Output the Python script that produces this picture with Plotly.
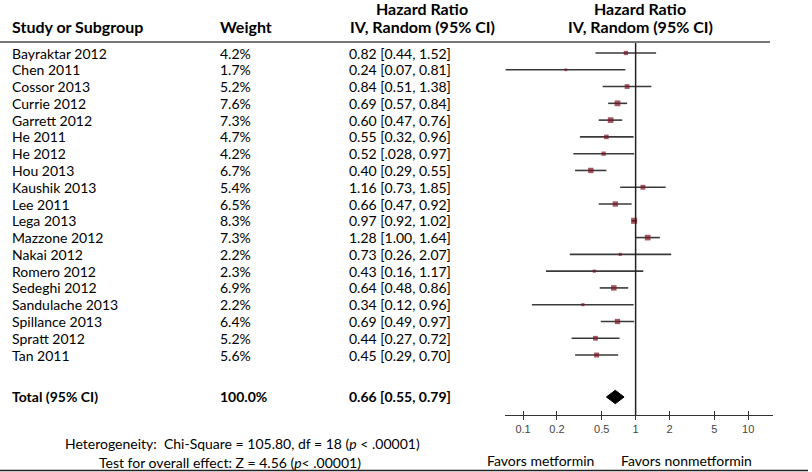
import plotly.graph_objects as go

W, H = 812, 472

studies = ["Bayraktar 2012", "Chen 2011", "Cossor 2013", "Currie 2012", "Garrett 2012",
           "He 2011", "He 2012", "Hou 2013", "Kaushik 2013", "Lee 2011", "Lega 2013",
           "Mazzone 2012", "Nakai 2012", "Romero 2012", "Sedeghi 2012", "Sandulache 2013",
           "Spillance 2013", "Spratt 2012", "Tan 2011"]
weights = [4.2, 1.7, 5.2, 7.6, 7.3, 4.7, 4.2, 6.7, 5.4, 6.5, 8.3, 7.3, 2.2, 2.3, 6.9, 2.2, 6.4, 5.2, 5.6]
hr = [0.82, 0.24, 0.84, 0.69, 0.60, 0.55, 0.52, 0.40, 1.16, 0.66, 0.97, 1.28, 0.73, 0.43, 0.64, 0.34, 0.69, 0.44, 0.45]
lower = [0.44, 0.07, 0.51, 0.57, 0.47, 0.32, 0.28, 0.29, 0.73, 0.47, 0.92, 1.00, 0.26, 0.16, 0.48, 0.12, 0.49, 0.27, 0.29]
upper = [1.52, 0.81, 1.38, 0.84, 0.76, 0.96, 0.97, 0.55, 1.85, 0.92, 1.02, 1.64, 2.07, 1.17, 0.86, 0.96, 0.97, 0.72, 0.70]
hr_text = ["0.82 [0.44, 1.52]", "0.24 [0.07, 0.81]", "0.84 [0.51, 1.38]", "0.69 [0.57, 0.84]",
           "0.60 [0.47, 0.76]", "0.55 [0.32, 0.96]", "0.52 [.028, 0.97]", "0.40 [0.29, 0.55]",
           "1.16 [0.73, 1.85]", "0.66 [0.47, 0.92]", "0.97 [0.92, 1.02]", "1.28 [1.00, 1.64]",
           "0.73 [0.26, 2.07]", "0.43 [0.16, 1.17]", "0.64 [0.48, 0.86]", "0.34 [0.12, 0.96]",
           "0.69 [0.49, 0.97]", "0.44 [0.27, 0.72]", "0.45 [0.29, 0.70]"]
total_hr, total_lo, total_hi = 0.66, 0.55, 0.79
total_text = "0.66 [0.55, 0.79]"
tick_vals = [0.1, 0.2, 0.5, 1, 2, 5, 10]
tick_text = ["0.1", "0.2", "0.5", "1", "2", "5", "10"]

FONT = "Lato"
TXT = "#000000"
ROW0, ROWH = 53, 16.78        # pixel centre of first row, row height
rows = list(range(len(studies)))
total_row = 20.5

def py(p):  # pixel y -> paper y
    return 1 - p / H

fig = go.Figure()

# CI lines
cx, cy = [], []
for i, lo, hi in zip(rows, lower, upper):
    cx += [lo, hi, None]
    cy += [i, i, None]
fig.add_trace(go.Scatter(x=cx, y=cy, mode="lines", line=dict(color="#3a3a3a", width=1.6),
                         hoverinfo="skip", cliponaxis=False))
# point estimates
fig.add_trace(go.Scatter(x=hr, y=rows, mode="markers",
                         marker=dict(symbol="square", color="#7a1222",
                                     size=[2.1 * w ** 0.5 for w in weights], line=dict(width=0)),
                         cliponaxis=False))
# total diamond
dh = 0.4
fig.add_trace(go.Scatter(x=[total_lo, total_hr, total_hi, total_hr, total_lo],
                         y=[total_row, total_row - dh, total_row, total_row + dh, total_row],
                         mode="lines", fill="toself", fillcolor="black",
                         line=dict(color="black", width=1), cliponaxis=False))
# dummy trace for the upper tick axis
fig.add_trace(go.Scatter(x=[1], y=[0], xaxis="x2", mode="markers", marker=dict(opacity=0),
                         hoverinfo="skip"))

ann = []
def txt(x, y, s, bold=False, anchor="left", yref="y", size=14):
    ann.append(dict(x=x / W, y=y, xref="paper", yref=yref, text=f"<b>{s}</b>" if bold else s,
                    showarrow=False, xanchor=anchor, yanchor="middle",
                    font=dict(family=FONT, size=size, color=TXT)))

for i, s, w, t in zip(rows, studies, weights, hr_text):
    txt(10, i, s)
    txt(218, i, f"{w:.1f}%")
    txt(347, i, t)
txt(10, total_row, "Total (95% CI)", bold=True)
txt(218, total_row, "100.0%", bold=True)
txt(347, total_row, total_text, bold=True)

# headers
HS = 16
txt(10, py(27), "Study or Subgroup", bold=True, yref="paper", size=HS)
txt(218, py(27), "Weight", bold=True, yref="paper", size=HS)
txt(422, py(9), "Hazard Ratio", bold=True, anchor="center", yref="paper", size=HS)
txt(422, py(27), "IV, Random (95% CI)", bold=True, anchor="center", yref="paper", size=HS)
txt(640, py(9), "Hazard Ratio", bold=True, anchor="center", yref="paper", size=HS)
txt(640, py(27), "IV, Random (95% CI)", bold=True, anchor="center", yref="paper", size=HS)

# footer
txt(242, py(443), "Heterogeneity:  Chi-Square = 105.80, df = 18 (<i>p</i> < .00001)",
    anchor="center", yref="paper")
txt(230, py(462), "Test for overall effect: Z = 4.56 (<i>p</i>< .00001)",
    anchor="center", yref="paper")
txt(485, py(460), "Favors metformin", yref="paper")
txt(619, py(460), "Favors nonmetformin", yref="paper")

axis_y = py(415)
x_dom = [505 / W, 773 / W]
x_rng = [-1.16, 1.22]

fig.update_layout(
    width=W, height=H, margin=dict(l=0, r=0, t=0, b=0),
    paper_bgcolor="white", plot_bgcolor="rgba(0,0,0,0)", showlegend=False,
    annotations=ann,
    xaxis=dict(type="log", domain=x_dom, range=x_rng, anchor="free", position=axis_y,
               showgrid=False, zeroline=False, showline=True, linecolor="#333", linewidth=1,
               ticks="outside", ticklen=4, tickcolor="#333", tickwidth=1,
               tickvals=tick_vals, ticktext=tick_text,
               tickfont=dict(family="Liberation Sans", size=11, color="#444")),
    xaxis2=dict(type="log", domain=x_dom, range=x_rng, anchor="free", position=axis_y,
                overlaying="x", showgrid=False, zeroline=False, showline=False,
                ticks="inside", ticklen=4, tickcolor="#333", tickwidth=1,
                tickvals=tick_vals, showticklabels=False),
    yaxis=dict(range=[(H - ROW0) / ROWH, -ROW0 / ROWH], domain=[0, 1], visible=False),
    shapes=[
        dict(type="line", xref="x", yref="paper", x0=1, x1=1, y0=axis_y, y1=py(42),
             line=dict(color="#222", width=1.5)),
        dict(type="line", xref="paper", yref="paper", x0=0, x1=770 / W, y0=py(42), y1=py(42),
             line=dict(color="#777", width=2)),
        dict(type="line", xref="paper", yref="paper", x0=0, x1=808 / W, y0=py(470.5), y1=py(470.5),
             line=dict(color="#222", width=1.5)),
    ],
)

fig.write_html("out.html", config={"displayModeBar": False},
               post_script="document.body.style.margin='0';document.body.style.overflow='hidden';")
